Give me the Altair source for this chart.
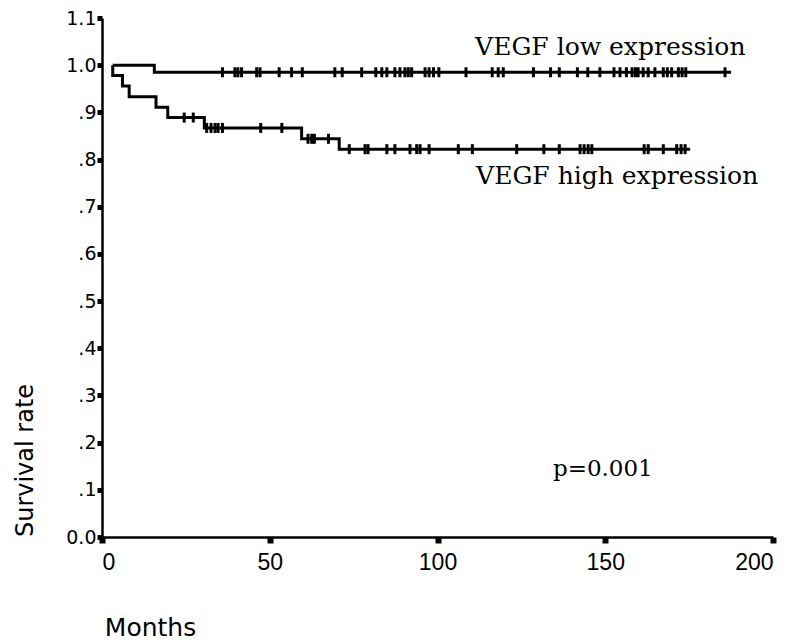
import altair as alt
import pandas as pd

# ---- data ----
# step curves: time (months) where the curve changes, and the level after it
HIGH_STEP_MONTHS = [3.2, 3.2, 6.1, 8.1, 16.1, 19.6, 30.5, 59.5, 70.7, 175.3]
HIGH_STEP_SURV = [1.0, 0.978, 0.956, 0.933, 0.911, 0.889, 0.867, 0.844, 0.822, 0.822]
LOW_STEP_MONTHS = [3.2, 15.6, 187.5]
LOW_STEP_SURV = [1.0, 0.985, 0.985]

# censored observations (months)
LOW_CENSOR = [35.9, 39.6, 40.5, 41.6, 46.1, 47.1, 52.8, 56.5, 59.7,
              69.4, 71.6, 77.4, 81.6, 83.4, 84.9, 87.3, 88.8, 90.3, 91.3, 92.3,
              96.3, 97.5, 98.8, 100.4, 108.5, 116.3, 118.1, 119.6,
              128.6, 133.7, 136.3, 141.7, 144.8, 148.4, 152.6, 154.4, 156.3,
              158.0, 159.0, 159.8, 161.3, 162.8, 164.8, 167.3, 168.5, 169.8,
              171.8, 172.9, 174.0, 185.7]
HIGH_CENSOR = [24.5, 27.2, 31.2, 32.5, 33.7, 34.6, 35.9, 47.3, 53.6,
               61.4, 62.5, 63.3, 67.5,
               73.7, 78.4, 79.3, 84.9, 87.3, 91.8, 93.8, 94.8, 97.5,
               106.2, 110.4, 123.6, 131.7, 136.3, 142.5, 143.7, 144.9, 146.0,
               161.6, 162.8, 167.3, 171.3, 172.6, 173.8]

X_TICKS = [0, 50, 100, 150, 200]
Y_TICKS = [0.0, 0.1, 0.2, 0.3, 0.4, 0.5, 0.6, 0.7, 0.8, 0.9, 1.0, 1.1]
Y_TICK_LABELS = ["0.0", ".1", ".2", ".3", ".4", ".5", ".6", ".7", ".8", ".9", "1.0", "1.1"]

ANNOT_TEXT = ["VEGF low expression", "VEGF high expression", "p=0.001"]
ANNOT_MONTH = [111.2, 111.5, 134.4]
ANNOT_SURV = [1.022, 0.748, 0.130]
ANNOT_SIZE = [25, 25, 23]


def level_at(t, months, surv):
    lvl = surv[0]
    for m, s in zip(months, surv):
        if m <= t:
            lvl = s
    return lvl


lines = []
for grp, ms, ss in [("low", LOW_STEP_MONTHS, LOW_STEP_SURV),
                    ("high", HIGH_STEP_MONTHS, HIGH_STEP_SURV)]:
    for i, (m, s) in enumerate(zip(ms, ss)):
        lines.append({"group": grp, "idx": i, "month": m, "surv": s})
lines_df = pd.DataFrame(lines)

cens = []
for t in LOW_CENSOR:
    cens.append({"group": "low", "month": t,
                 "surv": level_at(t, LOW_STEP_MONTHS, LOW_STEP_SURV)})
for t in HIGH_CENSOR:
    cens.append({"group": "high", "month": t,
                 "surv": level_at(t, HIGH_STEP_MONTHS, HIGH_STEP_SURV)})
cens_df = pd.DataFrame(cens)

annot_df = pd.DataFrame({"text": ANNOT_TEXT, "month": ANNOT_MONTH,
                         "surv": ANNOT_SURV, "size": ANNOT_SIZE})

label_expr = "[" + ",".join("'%s'" % s for s in Y_TICK_LABELS) + "][round(datum.value*10)]"

x_enc = alt.X("month:Q",
              scale=alt.Scale(domain=[0, 200], nice=False),
              axis=alt.Axis(values=X_TICKS, title="Months", tickSize=6, tickWidth=6,
                            labelFont="Liberation Sans", labelFontSize=23,
                            labelPadding=8, labelColor="black",
                            titleFont="DejaVu Sans", titleFontSize=25,
                            titleFontWeight="normal", titleColor="black",
                            titleX=48, titleY=98, titleAlign="center",
                            titleBaseline="alphabetic"))
y_enc = alt.Y("surv:Q",
              scale=alt.Scale(domain=[0, 1.1], nice=False),
              axis=alt.Axis(values=Y_TICKS, labelExpr=label_expr, title="Survival rate",
                            tickSize=5, tickWidth=5,
                            labelFont="DejaVu Sans", labelFontSize=19, labelPadding=1,
                            labelColor="black",
                            titleFont="DejaVu Sans", titleFontSize=24,
                            titleFontWeight="normal", titleColor="black",
                            titleX=-70, titleY=442, titleAlign="center",
                            titleBaseline="alphabetic", titleAngle=270))

line_layer = alt.Chart(lines_df).mark_line(
    interpolate="step-after", color="black", strokeWidth=3
).encode(x=x_enc, y=y_enc, detail="group:N", order="idx:Q")

tick_layer = alt.Chart(cens_df).mark_tick(
    orient="vertical", color="black", size=10, thickness=3, opacity=1
).encode(x=x_enc, y=y_enc)

text_layer = alt.Chart(annot_df).mark_text(
    align="left", baseline="alphabetic", font="DejaVu Serif", color="black"
).encode(x=x_enc, y=y_enc, text="text:N", size=alt.Size("size:Q", scale=None))

chart = alt.layer(line_layer, tick_layer, text_layer).properties(
    width=671, height=519,
    autosize=alt.AutoSizeParams(type="none"),
    padding={"left": 94, "top": 10, "right": 14, "bottom": 104},
).configure_view(stroke=None).configure_axis(
    grid=False, domainColor="black", domainWidth=2.5, tickColor="black"
)

chart.save("out.html", embed_options={"renderer": "svg", "actions": False})
